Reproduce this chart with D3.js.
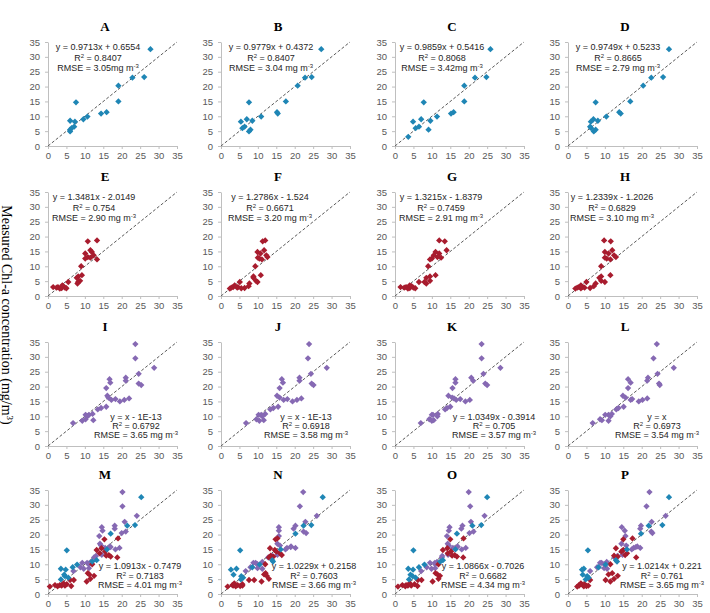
<!DOCTYPE html>
<html>
<head>
<meta charset="utf-8">
<script src="https://cdn.jsdelivr.net/npm/d3@7"></script>
<style>
  body { margin: 0; background: #fff; }
</style>
</head>
<body>
<div id="chart"></div>
<script>
// ---- data ----
const panelNames = ["A","B","C","D","E","F","G","H","I","J","K","L","M","N","O","P"];
const tickValues = [0, 5, 10, 15, 20, 25, 30, 35];

// measured Chl-a (y) for the three sample groups
const blueMeasured = [32.6, 23.0, 23.2, 20.3, 15.0, 14.7, 11.4, 10.9, 9.9, 9.0, 8.5, 8.2, 6.5, 6.0, 5.5, 4.9, 3.1];
const redMeasured = [18.7, 18.4, 15.4, 14.8, 14.3, 13.7, 13.1, 12.6, 12.3, 12.9, 10.0, 7.0, 6.6, 6.1, 5.1, 4.7, 4.2, 4.7, 3.3, 3.0, 3.0, 2.8, 2.7, 2.8, 2.6, 2.5, 3.6];
const purpleMeasured = [34.3, 29.5, 26.3, 24.3, 21.0, 20.5, 23.0, 22.0, 22.5, 21.3, 19.5, 16.9, 16.3, 15.5, 15.8, 15.0, 15.5, 16.0, 13.2, 12.8, 12.3, 10.8, 10.5, 10.0, 10.5, 9.0, 8.5, 8.7, 7.7];

// predicted Chl-a (x), one array per panel and group (null = not shown)
const predA = [27.8, 22.9, 26.1, 19.1, 19.1, 7.6, 15.9, 14.4, 10.7, 9.6, 6.0, 7.3, 7.1, 6.4, 6.0, 6.0, null];
const predB = [27.2, 22.8, 24.6, 20.8, 17.6, 7.6, 15.2, 15.4, 10.9, 7.0, 8.5, 5.4, 6.4, 5.8, 8.0, 7.6, null];
const predC = [25.9, 21.7, 24.8, 18.8, 18.8, 7.8, 15.9, 15.2, 11.4, 7.1, 9.6, 4.9, 6.5, 5.6, 9.1, null, 3.6];
const predD = [27.4, 22.6, 25.8, 20.4, 16.9, 7.5, 13.9, 14.3, 10.4, 6.9, 8.1, 6.2, 6.0, 6.3, 7.5, 7.0, null];

const predE = [13.3, 10.8, 11.5, 11.9, 10.1, 12.4, 10.8, 10.1, 13.3, 11.5, 9.0, 9.2, 8.2, 7.8, 8.7, 8.2, 8.0, 5.5, 4.1, 2.7, 1.4, 2.3, 3.7, 4.6, 5.0, 3.2, 3.9];
const predF = [12.0, 11.3, 11.7, 9.9, 10.7, 12.3, 12.6, 10.4, 11.1, 10.0, 9.3, 10.8, 8.8, 8.8, 9.5, 9.9, 7.7, 5.1, 7.5, 4.6, 3.3, 2.8, 6.4, 4.4, 5.5, 2.4, 3.7];
const predG = [12.0, 13.5, 14.0, 11.0, 12.0, 10.5, 11.5, 10.0, 9.5, 12.5, 9.0, 11.0, 9.5, 8.5, 9.5, 8.0, 8.5, 6.5, 4.5, 3.0, 1.5, 2.5, 4.0, 5.0, 5.5, 3.5, 4.0];
const predH = [9.8, 11.6, 12.0, 10.0, 11.0, 12.5, 13.0, 10.5, 11.5, 10.0, 9.0, 11.5, 9.0, 8.5, 9.0, 10.0, 7.5, 5.0, 7.0, 4.0, 3.0, 2.5, 6.0, 4.5, 3.5, 2.0, 3.5];

const predI = [23.7, 23.7, 28.8, 24.6, 24.6, 25.3, 21.1, 21.1, 16.7, 16.9, 15.8, 16.1, 16.4, 17.2, 18.3, 19.5, 20.7, 22.0, 15.8, 14.4, 13.5, 12.1, 11.1, 10.7, 10.2, 10.2, 9.3, 12.3, 6.8];
const predJ = [23.9, 23.6, 28.7, 24.4, 24.6, 25.1, 21.3, 21.3, 16.5, 16.8, 15.9, 15.2, 15.9, 17.0, 18.0, 19.4, 20.6, 21.8, 15.5, 14.2, 13.4, 12.0, 10.9, 11.2, 10.2, 9.6, 10.4, 11.6, 6.8];
const predK = [23.5, 23.5, 28.6, 24.0, 24.5, 25.0, 20.7, 21.2, 16.4, 16.4, 15.6, 14.5, 15.5, 16.6, 17.7, 19.1, 20.3, 16.0, 15.0, 14.1, 13.6, 11.6, 10.3, 11.5, 10.0, 9.3, 10.0, 10.5, 7.0];
const predL = [24.1, 23.2, 28.7, 24.3, 24.7, 24.9, 21.7, 21.5, 16.3, 17.0, 16.3, 14.9, 15.6, 17.0, 17.4, 19.2, 20.2, 21.5, 15.1, 13.7, 13.1, 11.9, 11.0, 11.5, 10.1, 8.7, 11.0, 9.2, 6.7];

const predMBlue = [25.3, 21.5, 23.6, 17.0, 16.0, 5.1, 13.2, 12.0, 7.9, 6.7, 3.5, 4.8, 4.4, 4.6, 5.5, 3.5, null];
const predMRed = [19.0, 15.3, 14.5, 13.2, 15.5, 14.0, 16.5, 17.0, 18.8, 15.8, 12.0, 10.8, 11.2, 12.5, 11.5, 7.0, 10.5, 6.0, 5.1, 1.9, 3.2, 4.6, 6.3, 3.7, 2.6, 0.5, 4.2];
const predMPurple = [20.2, 20.2, 24.1, 20.8, 21.1, 20.0, 18.1, 18.1, 14.6, 14.8, 13.9, 14.1, 14.4, 15.5, 17.0, 18.3, 19.4, 16.8, 14.6, 13.0, 12.5, 11.6, 10.6, 11.1, 9.3, 8.8, 9.7, 11.1, 6.9];
const predNBlue = [27.6, 22.4, 24.5, 20.2, 16.2, 5.2, 13.9, 14.1, 10.5, 8.5, 4.2, 2.7, 3.4, 5.5, 6.0, 5.4, null];
const predNRed = [15.3, 14.8, 13.3, 14.6, 15.0, 16.0, 16.5, 14.2, 13.0, 13.5, 12.0, 12.1, 11.7, 12.4, 13.0, 9.0, 11.0, 7.6, 5.8, 3.1, 4.5, 5.8, 5.2, 3.3, 4.0, 1.8, 3.6];
const predNPurple = [22.3, 21.4, 26.0, 22.9, 22.4, 23.1, 20.2, 19.7, 15.7, 15.7, 15.7, 15.3, 16.0, 17.9, 18.9, 17.5, 20.2, 19.0, 15.3, 13.9, 12.8, 11.2, 9.4, 9.9, 8.8, 8.0, 11.2, 9.9, 6.7];
const predOBlue = [25.0, 21.0, 23.4, 16.8, 16.4, 5.0, 13.0, 12.3, 8.0, 6.5, 3.6, 4.9, 4.2, 4.8, 5.6, 3.8, null];
const predORed = [18.6, 15.0, 14.2, 13.0, 15.2, 14.3, 16.2, 16.8, 18.5, 15.5, 11.8, 11.0, 11.5, 12.2, 11.8, 7.2, 10.2, 6.2, 5.3, 2.0, 3.0, 4.4, 6.1, 3.5, 2.8, 0.8, 4.0];
const predOPurple = [20.0, 20.4, 24.3, 20.6, 21.3, 20.2, 18.3, 18.0, 14.8, 14.6, 14.1, 14.3, 14.6, 15.7, 16.8, 18.1, 19.2, 17.0, 14.4, 12.8, 12.7, 11.4, 10.8, 10.9, 9.5, 8.6, 9.9, 10.9, 7.1];
const predPBlue = [27.4, 21.9, 25.6, 19.8, 16.0, 5.4, 13.0, 13.3, 10.2, 8.3, 4.3, 3.8, 4.0, 5.2, 5.6, 4.8, null];
const predPRed = [17.5, 15.0, 13.0, 15.0, 14.5, 16.0, 15.5, 13.5, 18.5, 12.5, 11.5, 12.0, 11.0, 13.5, 12.5, 10.2, 11.5, 6.0, 4.5, 3.0, 4.0, 5.5, 5.0, 3.0, 4.3, 2.5, 3.5];
const predPPurple = [22.1, 21.3, 26.5, 22.7, 22.6, 22.9, 19.8, 19.6, 14.6, 15.4, 15.6, 14.5, 15.8, 17.8, 18.4, 17.3, 19.6, 18.8, 14.8, 13.4, 12.6, 10.5, 9.1, 9.8, 8.7, 7.9, 10.6, 9.8, 6.0];

const eqText = ["y = 0.9713x + 0.6554", "y = 0.9779x + 0.4372", "y = 0.9859x + 0.5416", "y = 0.9749x + 0.5233",
  "y = 1.3481x - 2.0149", "y = 1.2786x - 1.524", "y = 1.3215x - 1.8379", "y = 1.2339x - 1.2026",
  "y = x - 1E-13", "y = x - 1E-13", "y = 1.0349x - 0.3914", "y = x",
  "y = 1.0913x - 0.7479", "y = 1.0229x + 0.2158", "y = 1.0866x - 0.7026", "y = 1.0214x + 0.221"];
const r2Text = ["0.8407", "0.8407", "0.8068", "0.8665", "0.754", "0.6671", "0.7459", "0.6829",
  "0.6792", "0.6918", "0.705", "0.6973", "0.7183", "0.7603", "0.6682", "0.761"];
const rmseText = ["3.05mg", "3.04 mg", "3.42mg", "2.79 mg", "2.90 mg", "3.20 mg", "2.91 mg", "3.10 mg",
  "3.65 mg", "3.58 mg", "3.57 mg", "3.54 mg", "4.01 mg", "3.66 mg", "4.34 mg", "3.65 mg"];

const groupColor = { blue: "#1f86b5", red: "#a81c2e", purple: "#8669b3" };

// series per panel: [group, measured, predicted]
const panelSeries = [
  [["blue", blueMeasured, predA]], [["blue", blueMeasured, predB]], [["blue", blueMeasured, predC]], [["blue", blueMeasured, predD]],
  [["red", redMeasured, predE]], [["red", redMeasured, predF]], [["red", redMeasured, predG]], [["red", redMeasured, predH]],
  [["purple", purpleMeasured, predI]], [["purple", purpleMeasured, predJ]], [["purple", purpleMeasured, predK]], [["purple", purpleMeasured, predL]],
  [["purple", purpleMeasured, predMPurple], ["red", redMeasured, predMRed], ["blue", blueMeasured, predMBlue]],
  [["purple", purpleMeasured, predNPurple], ["red", redMeasured, predNRed], ["blue", blueMeasured, predNBlue]],
  [["purple", purpleMeasured, predOPurple], ["red", redMeasured, predORed], ["blue", blueMeasured, predOBlue]],
  [["purple", purpleMeasured, predPPurple], ["red", redMeasured, predPRed], ["blue", blueMeasured, predPBlue]]
];

// ---- layout ----
const width = 710, height = 613;
const colX = [48, 221, 395, 568];
const rowY = [42, 192, 342, 490];
const plotW = 129, plotH = 104;
// text box centre (from plot left) per panel
const annX = [50, 50, 47, 50, 46, 49, 46, 44, 88, 85, 99, 89, 92, 93, 88, 94];

const svg = d3.select("#chart").append("svg")
  .attr("width", width)
  .attr("height", height)
  .style("font-family", "'Liberation Sans', Arial, sans-serif");

const x = d3.scaleLinear().domain([0, 35]).range([0, plotW]);
const y = d3.scaleLinear().domain([0, 35]).range([plotH, 0]);
const marker = d3.symbol().type(d3.symbolSquare).size(20);

panelNames.forEach((name, i) => {
  const row = Math.floor(i / 4), col = i % 4;
  const g = svg.append("g").attr("transform", `translate(${colX[col]},${rowY[row]})`);

  // axes
  const yAxis = g.append("g")
    .call(d3.axisLeft(y).tickValues(tickValues).tickSize(3).tickSizeOuter(0).tickPadding(5));
  const xAxis = g.append("g")
    .attr("transform", `translate(0,${plotH})`)
    .call(d3.axisBottom(x).tickValues(tickValues).tickSize(3).tickSizeOuter(0).tickPadding(3));
  [xAxis, yAxis].forEach(a => {
    a.select(".domain").attr("stroke", "#bfbfbf");
    a.selectAll(".tick line").attr("stroke", "#bfbfbf");
    a.selectAll(".tick text").attr("fill", "#595959").style("font-size", "9.5px")
      .style("font-family", "'Liberation Sans', Arial, sans-serif");
  });

  // 1:1 line
  g.append("line")
    .attr("x1", x(0)).attr("y1", y(0))
    .attr("x2", x(35)).attr("y2", y(35))
    .attr("stroke", "#595959")
    .attr("stroke-width", 1)
    .attr("stroke-dasharray", "3,2");

  // points
  panelSeries[i].forEach(([grp, meas, pred]) => {
    const pts = meas.map((m, k) => ({ m, p: pred[k] })).filter(d => d.p != null);
    g.selectAll(null).data(pts).enter().append("path")
      .attr("d", marker)
      .attr("transform", d => `translate(${x(d.p)},${y(d.m)}) rotate(45)`)
      .attr("fill", groupColor[grp]);
  });

  // panel title
  g.append("text")
    .attr("x", 57).attr("y", -11)
    .attr("text-anchor", "middle")
    .style("font-family", "'Liberation Serif', 'Times New Roman', serif")
    .style("font-weight", "bold")
    .style("font-size", "13px")
    .text(name);

  // regression text
  const base = row < 2 ? [8, 18.5, 29] : (row === 2 ? [plotH - 26, plotH - 17, plotH - 8] : [plotH - 25, plotH - 15.5, plotH - 6]);
  const ann = g.append("g").attr("text-anchor", "middle").style("font-size", "9px").attr("fill", "#262626");
  ann.append("text").attr("x", annX[i]).attr("y", base[0]).text(eqText[i]);
  const r2 = ann.append("text").attr("x", annX[i]).attr("y", base[1]);
  r2.append("tspan").text("R");
  r2.append("tspan").attr("dy", -3).style("font-size", "6px").text("2");
  r2.append("tspan").attr("dy", 3).text(" = " + r2Text[i]);
  const rm = ann.append("text").attr("x", annX[i]).attr("y", base[2]);
  rm.append("tspan").text("RMSE = " + rmseText[i] + " m");
  rm.append("tspan").attr("dy", -3).style("font-size", "6px").text("-3");
});

// y axis title
svg.append("text")
  .attr("transform", "translate(2,315) rotate(90)")
  .attr("text-anchor", "middle")
  .style("font-family", "'Liberation Serif', 'Times New Roman', serif")
  .style("font-size", "14px")
  .attr("fill", "#000")
  .call(t => {
    t.append("tspan").text("Measured Chl-a concentration (mg/m");
    t.append("tspan").attr("dy", -5).style("font-size", "9px").text("3");
    t.append("tspan").attr("dy", 5).text(")");
  });
</script>
</body>
</html>
